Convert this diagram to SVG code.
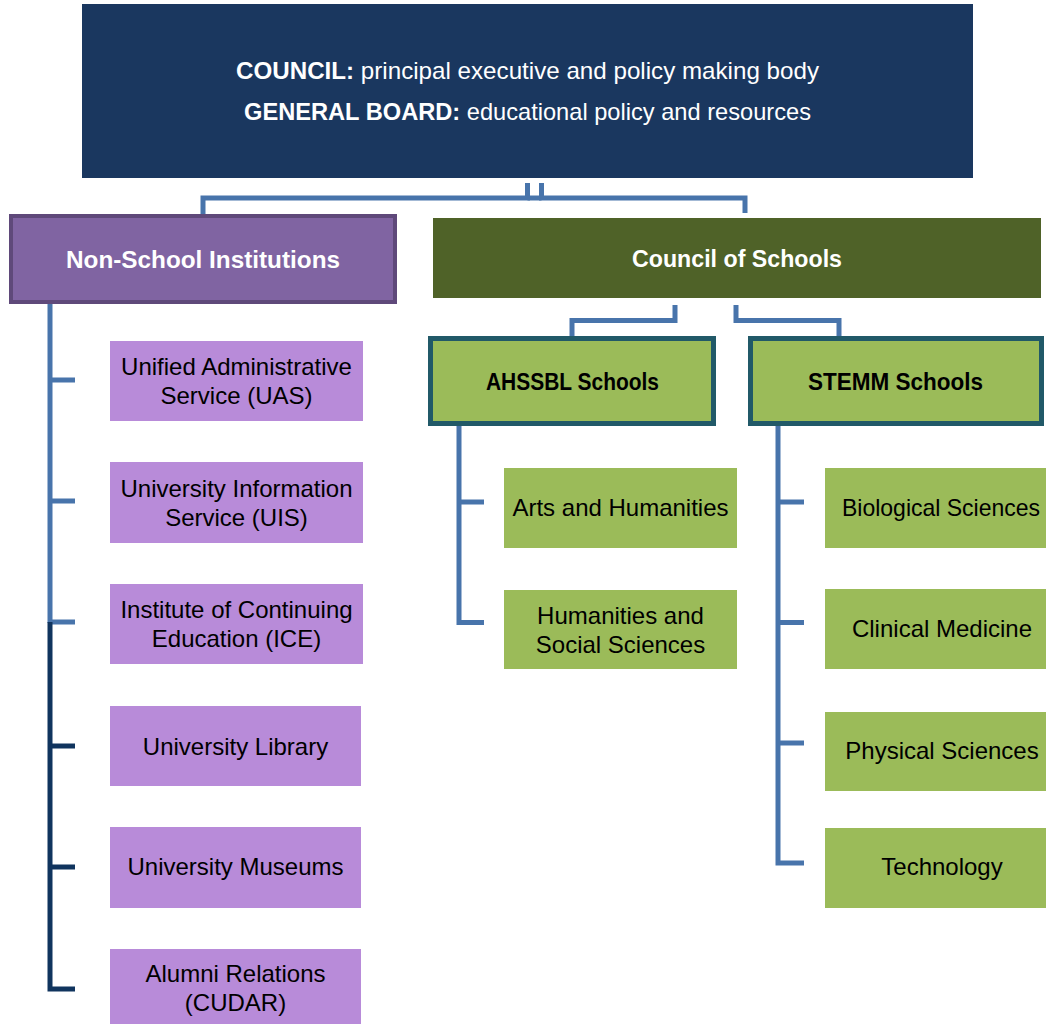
<svg xmlns="http://www.w3.org/2000/svg" width="1046" height="1024" viewBox="0 0 1046 1024">
<style>
text{font-family:"Liberation Sans",Arial,sans-serif;font-size:24px;text-anchor:middle}
.b{font-weight:bold}
.w{fill:#ffffff}
.k{fill:#000000}
.pi{fill:#b88bd9}
.gi{fill:#9bbb59}
.c{fill:none;stroke:#4874ab;stroke-width:5;stroke-linejoin:miter}
.cd{fill:none;stroke:#10345e;stroke-width:5;stroke-linejoin:miter}
</style>
<rect width="1046" height="1024" fill="#ffffff"/>
<g id="connectors">
<path class="c" d="M527.5,183 V198 H203 V214"/>
<path class="c" d="M541.5,183 V198 H745 V213"/>
<path class="c" d="M527.5,198 H541.5"/>
<path class="c" d="M675,305 V320.5 H572 V336"/>
<path class="c" d="M736,305 V320.5 H839 V336"/>
<path class="c" d="M50,304 V623"/>
<path class="c" d="M50,380 H75 M50,501 H75 M50,622 H75"/>
<path class="cd" d="M50,622 V989 H75 M50,746 H75 M50,867 H75"/>
<path class="c" d="M459,426 V622.5 H484 M459,502 H484"/>
<path class="c" d="M778,426 V863 H804 M778,502 H804 M778,622.5 H804 M778,743 H804"/>
</g>
<g id="top">
<rect x="82" y="4" width="891" height="174" fill="#1a375f"/>
<text x="527.5" y="79" class="w" textLength="583" lengthAdjust="spacingAndGlyphs"><tspan class="b">COUNCIL:</tspan> principal executive and policy making body</text>
<text x="527.5" y="120" class="w" textLength="567" lengthAdjust="spacingAndGlyphs"><tspan class="b">GENERAL BOARD:</tspan> educational policy and resources</text>
</g>
<g id="nonschool">
<rect x="11" y="216" width="384" height="86" fill="#8064a2" stroke="#5f497a" stroke-width="4"/>
<text x="203" y="268" class="w b" textLength="274" lengthAdjust="spacingAndGlyphs">Non-School Institutions</text>
</g>
<g id="council-schools">
<rect x="433" y="218" width="608" height="80" fill="#4f6228"/>
<text x="737" y="267" class="w b" textLength="210" lengthAdjust="spacingAndGlyphs">Council of Schools</text>
</g>
<g id="ahssbl">
<rect x="430.5" y="338.5" width="283" height="85" fill="#9bbb59" stroke="#215968" stroke-width="5"/>
<text x="572.5" y="390" class="k b" textLength="173" lengthAdjust="spacingAndGlyphs">AHSSBL Schools</text>
</g>
<g id="stemm">
<rect x="750.5" y="338.5" width="291" height="85" fill="#9bbb59" stroke="#215968" stroke-width="5"/>
<text x="895.5" y="390" class="k b" textLength="175" lengthAdjust="spacingAndGlyphs">STEMM Schools</text>
</g>
<g id="uas">
<rect class="pi" x="110" y="341" width="253" height="80"/>
<text x="236.5" y="375">Unified Administrative</text>
<text x="236.5" y="404">Service (UAS)</text>
</g>
<g id="uis">
<rect class="pi" x="110" y="462" width="253" height="81"/>
<text x="236.5" y="497">University Information</text>
<text x="236.5" y="526">Service (UIS)</text>
</g>
<g id="ice">
<rect class="pi" x="110" y="584" width="253" height="80"/>
<text x="236.5" y="618">Institute of Continuing</text>
<text x="236.5" y="647">Education (ICE)</text>
</g>
<g id="library">
<rect class="pi" x="110" y="706" width="251" height="80"/>
<text x="235.5" y="755">University Library</text>
</g>
<g id="museums">
<rect class="pi" x="110" y="827" width="251" height="81"/>
<text x="235.5" y="875">University Museums</text>
</g>
<g id="alumni">
<rect class="pi" x="110" y="949" width="251" height="75"/>
<text x="235.5" y="982">Alumni Relations</text>
<text x="235.5" y="1011">(CUDAR)</text>
</g>
<g id="arts">
<rect class="gi" x="504" y="468" width="233" height="80"/>
<text x="620.5" y="516">Arts and Humanities</text>
</g>
<g id="hss">
<rect class="gi" x="504" y="590" width="233" height="79"/>
<text x="620.5" y="624">Humanities and</text>
<text x="620.5" y="653">Social Sciences</text>
</g>
<g id="bio">
<rect class="gi" x="825" y="468" width="221" height="80"/>
<text x="941" y="516" textLength="198" lengthAdjust="spacingAndGlyphs">Biological Sciences</text>
</g>
<g id="clin">
<rect class="gi" x="825" y="589" width="221" height="80"/>
<text x="942" y="637">Clinical Medicine</text>
</g>
<g id="phys">
<rect class="gi" x="825" y="712" width="221" height="79"/>
<text x="942" y="759">Physical Sciences</text>
</g>
<g id="tech">
<rect class="gi" x="825" y="828" width="221" height="80"/>
<text x="942" y="875">Technology</text>
</g>
</svg>
